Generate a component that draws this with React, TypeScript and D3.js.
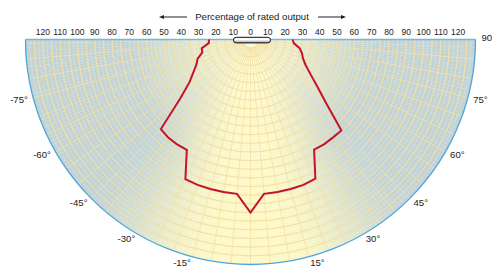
import React from 'react';
import * as d3 from 'd3';

// angles in degrees, 0 = straight down, positive to the right
const angles = [-90, -85, -80, -75, -70, -65, -60, -55, -50, -45, -40, -35, -30, -25, -20, -15, -10, -5,
  0, 5, 10, 15, 20, 25, 30, 35, 40, 45, 50, 55, 60, 65, 70, 75, 80, 85, 90];
// percentage of rated output
const output = [24, 24.2, 28.6, 28.8, 32.5, 34.5, 38.2, 43, 53, 73.2, 74, 74, 73.6, 89, 89.4, 89.4, 89.5, 89.5,
  100, 89.5, 89.5, 89.4, 89.4, 88.7, 73.5, 74, 74, 74.3, 57, 47, 40, 35.2, 32.3, 30.8, 28.8, 25.2, 24.3];

const percentTicks = [-120, -110, -100, -90, -80, -70, -60, -50, -40, -30, -20, -10, 0, 10, 20, 30, 40, 50, 60, 70, 80, 90, 100, 110, 120];
const angleLabels = [-75, -60, -45, -30, -15, 15, 30, 45, 60, 75];

const W = 492, H = 266;
const cx = 250.5, cy = 39.5, R = 225;
const rMax = 130;

const App = () => {
  const r = d3.scaleLinear().domain([0, rMax]).range([0, R]);
  const rad = (deg: number) => (deg * Math.PI) / 180;
  const pt = (deg: number, rr: number) => [cx + rr * Math.sin(rad(deg)), cy + rr * Math.cos(rad(deg))];

  const yellow = '#fdf8c6';
  const grey = '#c3d3d4';
  const mix = d3.interpolateRgb(yellow, grey);
  const ease = (a: number) => {
    const t = Math.min(1, Math.max(0, (a - 8) / 40));
    return t * t * (3 - 2 * t);
  };

  const arc = d3.arc<any>();
  const wedges = d3.range(-90, 90, 1).map(a => ({
    d: arc({ innerRadius: 0, outerRadius: R, startAngle: Math.PI - rad(a + 1.05), endAngle: Math.PI - rad(a) }) as string,
    fill: mix(ease(Math.abs(a + 0.5))),
  }));

  const halfDisc = arc({ innerRadius: 0, outerRadius: R, startAngle: Math.PI / 2, endAngle: (3 * Math.PI) / 2 }) as string;
  const halfArc = (rr: number) => arc({ innerRadius: rr, outerRadius: rr, startAngle: Math.PI / 2, endAngle: (3 * Math.PI) / 2 }) as string;

  const line = d3.lineRadial<number>()
    .angle((_, i) => Math.PI - rad(angles[i]))
    .radius(d => r(d));

  const majorCircles = d3.range(5, rMax, 5);
  const minorCircles = d3.range(2.5, rMax, 5);
  const majorRays = d3.range(-85, 90, 5);

  return (
    <svg width={W} height={H} style={{ position: 'absolute', left: 0, top: 0 }} fontFamily="'Liberation Sans', Arial, sans-serif">
      <defs>
        <radialGradient id="glow" cx={cx} cy={cy + 20} r={115} gradientUnits="userSpaceOnUse">
          <stop offset="0" stopColor="#fffad2" stopOpacity={0.95} />
          <stop offset="0.5" stopColor="#fdf7ca" stopOpacity={0.5} />
          <stop offset="1" stopColor="#fdf7ca" stopOpacity={0} />
        </radialGradient>
        <linearGradient id="lamp" x1="0" y1="0" x2="0" y2="1">
          <stop offset="0" stopColor="#f4f4f4" />
          <stop offset="0.45" stopColor="#ffffff" />
          <stop offset="1" stopColor="#8c8c8c" />
        </linearGradient>
        <clipPath id="disc">
          <path d={halfDisc} transform={`translate(${cx},${cy})`} />
        </clipPath>
      </defs>

      <g transform={`translate(${cx},${cy})`}>
        {wedges.map((w, i) => <path key={i} d={w.d} fill={w.fill} />)}
      </g>
      <rect x={0} y={0} width={W} height={H} fill="url(#glow)" clipPath="url(#disc)" />

      <g transform={`translate(${cx},${cy})`} fill="none">
        {minorCircles.map(c => <path key={'mc' + c} d={halfArc(r(c))} stroke="#ffffff" strokeOpacity={0.2} strokeWidth={0.5} />)}
        {majorCircles.map(c => <path key={'c' + c} d={halfArc(r(c))} stroke="#f2e1a4" strokeWidth={0.8} />)}
        {majorRays.map(a => {
          const [x, y] = pt(a, R);
          const [x0, y0] = pt(a, 8);
          return <line key={'r' + a} x1={x0 - cx} y1={y0 - cy} x2={x - cx} y2={y - cy} stroke="#f2e1a4" strokeWidth={0.8} />;
        })}
        <path d={halfArc(R)} stroke="#4aa6e2" strokeWidth={1.3} />
        <line x1={-R} y1={0} x2={R} y2={0} stroke="#6db8e8" strokeWidth={1.3} />
        <path d={line(output) as string} stroke="#c4122f" strokeWidth={2} strokeLinejoin="miter" />
      </g>

      <rect x={233.5} y={37.3} width={37} height={5.6} rx={2.8} fill="url(#lamp)" stroke="#111" strokeWidth={1} />

      {percentTicks.map(t => (
        <text key={'t' + t} x={cx + r(t)} y={35} fontSize={8.5} textAnchor="middle" fill="#222">{Math.abs(t)}</text>
      ))}

      <text x={252} y={20} fontSize={9.6} textAnchor="middle" fill="#222">Percentage of rated output</text>
      <line x1={161} y1={17} x2={187} y2={17} stroke="#222" strokeWidth={1} />
      <path d="M159,17 L164,15 L164,19 Z" fill="#222" />
      <line x1={318} y1={17} x2={344} y2={17} stroke="#222" strokeWidth={1} />
      <path d="M346,17 L341,15 L341,19 Z" fill="#222" />

      {angleLabels.map(a => {
        const [x, y] = pt(a, 230.5);
        return (
          <text key={'a' + a} x={x} y={y} dy="0.35em" fontSize={9.6} textAnchor={a < 0 ? 'end' : 'start'} fill="#222">{`${a}°`}</text>
        );
      })}
      <text x={481.5} y={38} dy="0.35em" fontSize={9.6} fill="#222">90</text>
    </svg>
  );
};

export default App;
